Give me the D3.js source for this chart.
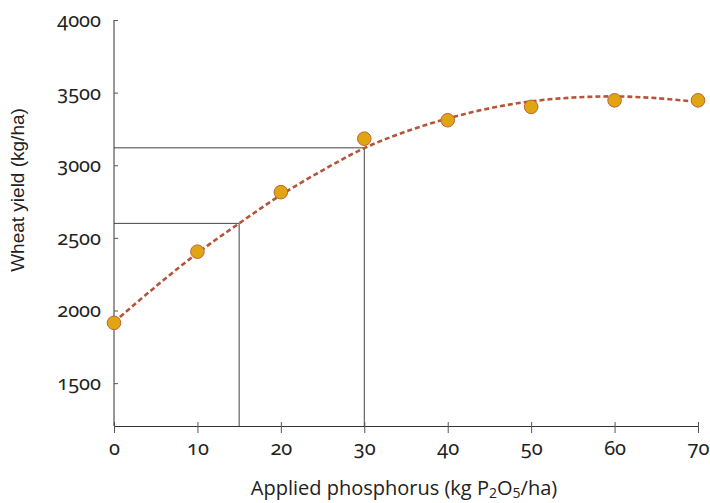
<!DOCTYPE html>
<meta charset="utf-8">
<style>
body { margin: 0; background: #fff; }
.tick text { font-family: "Noto Sans", sans-serif; font-size: 20px; fill: #222;
             font-variant-numeric: oldstyle-nums; font-feature-settings: "onum" 1; }
.domain { stroke: #333; }
.tick line { stroke: #555; }
</style>
<body>
<script src="https://d3js.org/d3.v7.min.js"></script>
<script>

// measured points (kg P2O5/ha, kg/ha)
var phosphorus = [0, 10, 20, 30, 40, 50, 60, 70];
var yieldVals  = [1915, 2405, 2815, 3183, 3310, 3402, 3447, 3447];

// fitted response curve
var curveX = [0, 5, 10, 15, 20, 25, 30, 35, 40, 45, 50, 55, 60, 65, 70];
var curveY = [1920, 2165, 2395, 2600, 2795, 2965, 3118, 3232, 3322, 3392, 3440, 3466, 3474, 3462, 3435];

// guide lines: rate -> yield
var guideX = [15, 30];
var guideY = [2600, 3120];

var xTicks = [0, 10, 20, 30, 40, 50, 60, 70];
var yTicks = [1500, 2000, 2500, 3000, 3500, 4000];

var margin = {top: 20, right: 12, bottom: 77, left: 114},
    width = 710 - margin.left - margin.right,
    height = 503 - margin.top - margin.bottom;

var x = d3.scaleLinear().domain([0, 70]).range([0, 584]);
var y = d3.scaleLinear().domain([1205, 4000]).range([height, 0]);

var svg = d3.select("body").append("svg")
    .attr("width", 710)
    .attr("height", 503)
  .append("g")
    .attr("transform", "translate(" + margin.left + "," + margin.top + ")");

// guide lines
guideX.forEach(function(gx, i) {
  svg.append("path")
    .attr("d", "M0," + y(guideY[i]) + "H" + x(gx) + "V" + height)
    .attr("fill", "none")
    .attr("stroke", "#444")
    .attr("stroke-width", 1);
});

// x axis
var xg = svg.append("g")
    .attr("transform", "translate(0," + height + ")")
    .call(d3.axisBottom(x).tickValues(xTicks).tickFormat(d3.format("d"))
      .tickSizeOuter(0).tickSize(7).tickPadding(8));
xg.selectAll(".tick line").attr("y1", -4);

// y axis
var yg = svg.append("g")
    .call(d3.axisLeft(y).tickValues(yTicks).tickFormat(d3.format("d"))
      .tickSizeOuter(0).tickSize(6).tickPadding(7));
yg.selectAll(".tick line").attr("x2", 4);
yg.select(".domain").attr("d", "M0," + height + "V0");

// curve
var line = d3.line()
    .x(function(d, i) { return x(curveX[i]); })
    .y(function(d) { return y(d); })
    .curve(d3.curveCatmullRom);

svg.append("path")
    .datum(curveY)
    .attr("d", line)
    .attr("fill", "none")
    .attr("stroke", "#b4553a")
    .attr("stroke-width", 2.6)
    .attr("stroke-dasharray", "5,3");

// points
svg.selectAll(".pt")
    .data(phosphorus)
  .enter().append("circle")
    .attr("class", "pt")
    .attr("cx", function(d) { return x(d); })
    .attr("cy", function(d, i) { return y(yieldVals[i]); })
    .attr("r", 6.8)
    .attr("fill", "#e0a512")
    .attr("stroke", "#c0633a")
    .attr("stroke-width", 1);

// axis titles
var xt = svg.append("text")
    .attr("x", 290)
    .attr("y", height + 69)
    .attr("text-anchor", "middle")
    .style("font-family", "'Open Sans', sans-serif")
    .style("font-size", "20px")
    .style("fill", "#222");
xt.append("tspan").text("Applied phosphorus (kg P");
xt.append("tspan").attr("dy", 3).style("font-size", "14px").text("2");
xt.append("tspan").attr("dy", -3).text("O");
xt.append("tspan").attr("dy", 3).style("font-size", "14px").text("5");
xt.append("tspan").attr("dy", -3).text("/ha)");

svg.append("text")
    .attr("transform", "rotate(-90)")
    .attr("x", -170)
    .attr("y", -90)
    .attr("text-anchor", "middle")
    .style("font-family", "'Liberation Sans', Arial, sans-serif")
    .style("font-size", "19px")
    .style("fill", "#222")
    .text("Wheat yield (kg/ha)");

</script>
</body>
